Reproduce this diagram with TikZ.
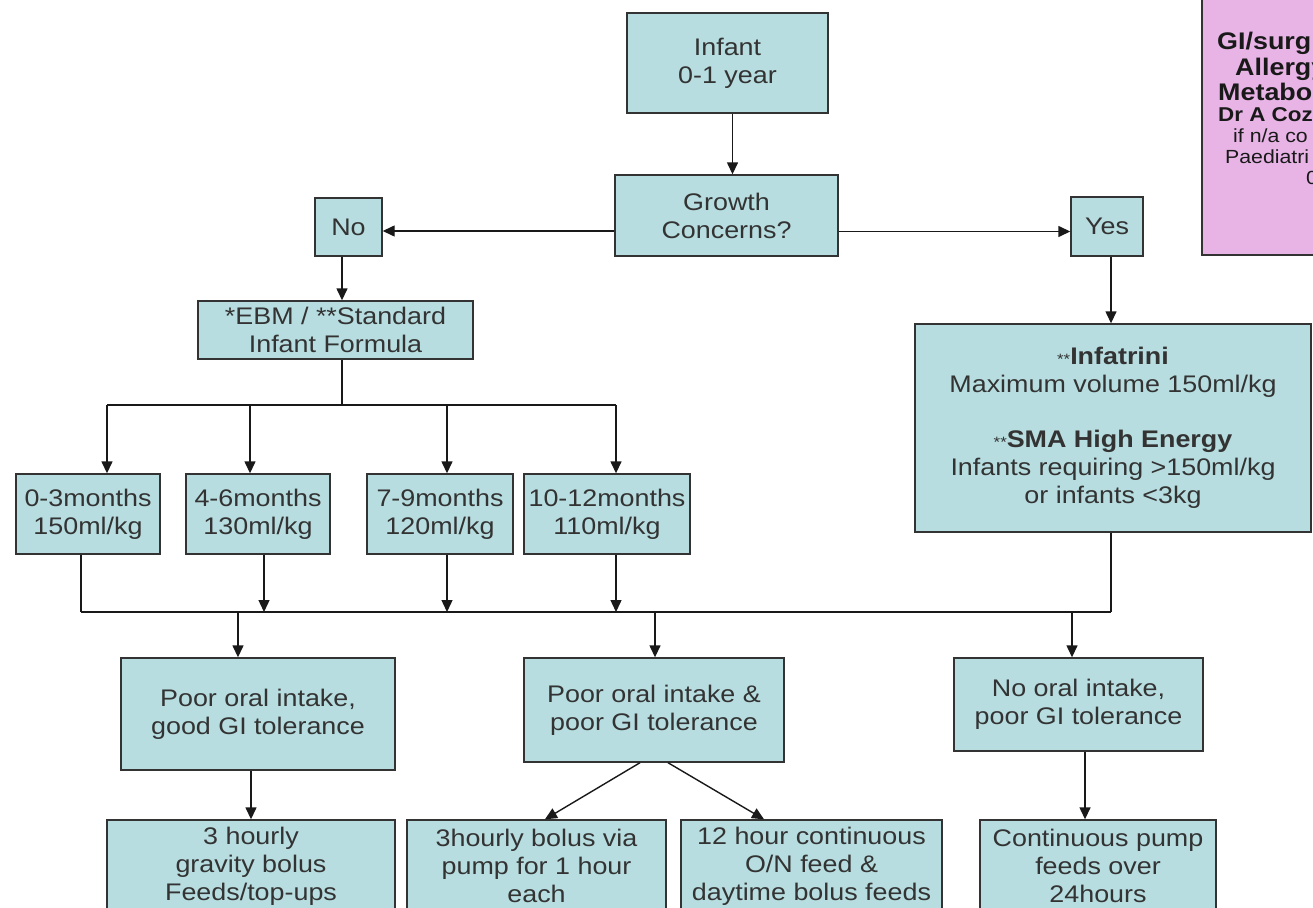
\documentclass[tikz,border=0pt]{standalone}
\usepackage{fontspec}
\setmainfont{Liberation Sans}[FakeStretch=1.12]
\usetikzlibrary{arrows.meta}

\definecolor{boxblue}{RGB}{183,221,224}
\definecolor{boxpink}{RGB}{232,180,230}

\begin{document}
\begin{tikzpicture}[
    x=1pt, y=-1pt,
    >={Triangle[length=12pt,width=11pt]}, % Default arrow tip
    box/.style={draw=black!80, line width=1.4pt, fill=boxblue, align=center,
        inner sep=0pt, text=black!80, font=\fontsize{24}{28}\selectfont}, % Blue boxes
    conn/.style={line width=1.4pt, black!90}, % Connector lines
    pinktext/.style={anchor=base west, inner sep=0pt, text=black!90} % Text in the contact box
]

    % Page frame
    \useasboundingbox (0,0) rectangle (1313,907);
    \clip (0,0) rectangle (1313,907);
    \fill[white] (0,0) rectangle (1313,907);

    % Top of the chart
    \node[box, minimum width=201pt, minimum height=100pt] (infant) at (727.5,63) {Infant\\0-1 year};
    \node[box, minimum width=223pt, minimum height=81pt] (growth) at (726.5,215.5) {Growth\\Concerns?};
    \node[box, minimum width=67pt, minimum height=58pt] (no) at (348.5,227) {No};
    \node[box, minimum width=72pt, minimum height=59pt] (yes) at (1107,226.5) {Yes};

    % Contact box (cut off at the right edge)
    \node[draw=black!80, line width=1.4pt, fill=boxpink, minimum width=138pt, minimum height=265pt] (contact) at (1271,122.5) {};
    \node[pinktext, font=\bfseries\fontsize{24}{24}\selectfont] (gi) at (1217,50) {GI/surg};
    \node[pinktext, font=\bfseries\fontsize{24}{24}\selectfont] (allergy) at (1235,75) {Allergy};
    \node[pinktext, font=\bfseries\fontsize{24}{24}\selectfont] (metabo) at (1218,100) {Metabo};
    \node[pinktext, font=\bfseries\fontsize{20}{20}\selectfont] (doctor) at (1218,121) {Dr A Coz};
    \node[pinktext, font=\fontsize{19}{19}\selectfont] (ifna) at (1233,142) {if n/a co};
    \node[pinktext, font=\fontsize{19}{19}\selectfont] (paed) at (1225,163) {Paediatri};
    \node[pinktext, font=\fontsize{19}{19}\selectfont] (zero) at (1306,184) {0};

    % Left branch: standard feeds
    \node[box, minimum width=275pt, minimum height=58pt] (ebm) at (335.5,330) {*EBM / **Standard\\Infant Formula};
    \node[box, minimum width=144pt, minimum height=80pt] (m03) at (88,514) {0-3months\\150ml/kg};
    \node[box, minimum width=144pt, minimum height=80pt] (m46) at (258,514) {4-6months\\130ml/kg};
    \node[box, minimum width=146pt, minimum height=80pt] (m79) at (440,514) {7-9months\\120ml/kg};
    \node[box, minimum width=166pt, minimum height=80pt] (m1012) at (607,514) {10-12months\\110ml/kg};

    % Right branch: high energy feeds
    \node[box, minimum width=396pt, minimum height=208pt] (feeds) at (1113,428)
        {{\fontsize{15}{15}\selectfont **}\textbf{Infatrini}\\Maximum volume 150ml/kg\\[27pt]
         {\fontsize{15}{15}\selectfont **}\textbf{SMA High Energy}\\Infants requiring >150ml/kg\\or infants <3kg};

    % Intake and tolerance
    \node[box, minimum width=274pt, minimum height=112pt] (poor1) at (258,714) {Poor oral intake,\\good GI tolerance};
    \node[box, minimum width=260pt, minimum height=104pt] (poor2) at (654,710) {Poor oral intake \&\\poor GI tolerance};
    \node[box, minimum width=249pt, minimum height=93pt] (noral) at (1078.5,704.5) {No oral intake,\\poor GI tolerance};

    % Feeding regimes (cut off at the bottom edge)
    \node[box, minimum width=288pt, minimum height=92pt] (b1) at (251,866) {3 hourly\\gravity bolus\\Feeds/top-ups};
    \node[box, minimum width=259pt, minimum height=92pt] (b2) at (536.5,866) {3hourly bolus via\\pump for 1 hour\\each};
    \node[box, minimum width=261pt, minimum height=92pt] (b3) at (811.5,866) {12 hour continuous\\O/N feed \&\\daytime bolus feeds};
    \node[box, minimum width=236pt, minimum height=92pt] (b4) at (1098,866) {Continuous pump\\feeds over\\24hours};

    % Junction points
    \coordinate (nopt) at ([yshift=-4pt]no.east);
    \coordinate (yespt) at ([yshift=-5pt]yes.west);
    \coordinate (split) at (342,405); % Below the formula box
    \coordinate (A1) at (107,405);
    \coordinate (A2) at (250,405);
    \coordinate (A3) at (447,405);
    \coordinate (A4) at (616,405);
    \coordinate (B0) at (81,612);  % Collecting line
    \coordinate (B1) at (264,612);
    \coordinate (B2) at (447,612);
    \coordinate (B3) at (616,612);
    \coordinate (B4) at (1111,612);
    \coordinate (C1) at (238,612);
    \coordinate (C2) at (655,612);
    \coordinate (C3) at (1072,612);

    % Upper arrows
    \draw[conn,->] ([xshift=5pt]infant.south) -- ([xshift=5pt]infant.south |- growth.north);
    \draw[conn,->] (growth.west |- nopt) -- (nopt);
    \draw[conn,->] (growth.east |- yespt) -- (yespt);
    \draw[conn,->] ([xshift=-6.5pt]no.south) -- ([xshift=-6.5pt]no.south |- ebm.north);
    \draw[conn,->] ([xshift=4pt]yes.south) -- ([xshift=4pt]yes.south |- feeds.north);

    % Split to the age groups
    \draw[conn] (split |- ebm.south) -- (split);
    \draw[conn] (A1) -- (A4);
    \draw[conn,->] (A1) -- (A1 |- m03.north);
    \draw[conn,->] (A2) -- (A2 |- m46.north);
    \draw[conn,->] (A3) -- (A3 |- m79.north);
    \draw[conn,->] (A4) -- (A4 |- m1012.north);

    % Collect again
    \draw[conn] (B0 |- m03.south) -- (B0);
    \draw[conn,->] (B1 |- m46.south) -- (B1);
    \draw[conn,->] (B2 |- m79.south) -- (B2);
    \draw[conn,->] (B3 |- m1012.south) -- (B3);
    \draw[conn] (B4 |- feeds.south) -- (B4);
    \draw[conn] (B0) -- (B4);
    \draw[conn,->] (C1) -- (C1 |- poor1.north);
    \draw[conn,->] (C2) -- (C2 |- poor2.north);
    \draw[conn,->] (C3) -- (C3 |- noral.north);

    % Lower arrows
    \draw[conn,->] (poor1.south -| b1.north) -- (b1.north);
    \draw[conn,->] ([xshift=-14pt]poor2.south) -- ([xshift=8.5pt]b2.north);
    \draw[conn,->] ([xshift=14pt]poor2.south) -- ([xshift=-47.5pt]b3.north);
    \draw[conn,->] ([xshift=6.5pt]noral.south) -- ([xshift=6.5pt]noral.south |- b4.north);

\end{tikzpicture}
\end{document}
